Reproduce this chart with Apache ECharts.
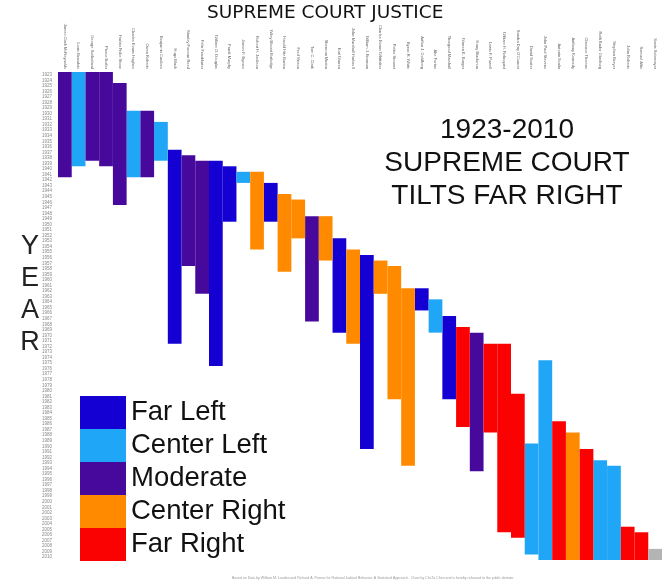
<!DOCTYPE html>
<html>
<head>
<meta charset="utf-8">
<script src="https://cdn.jsdelivr.net/npm/echarts@6/dist/echarts.min.js"></script>
<style>html,body{margin:0;padding:0;background:#fff;}#c{width:666px;height:587px;}</style>
</head>
<body>
<div id="c"></div>
<script>
const justices = ["James Clark McReynolds","Louis Brandeis","George Sutherland","Pierce Butler","Harlan Fiske Stone","Charles Evans Hughes","Owen Roberts","Benjamin Cardozo","Hugo Black","Stanley Forman Reed","Felix Frankfurter","William O. Douglas","Frank Murphy","James F. Byrnes","Robert H. Jackson","Wiley Blount Rutledge","Harold Hitz Burton","Fred Vinson","Tom C. Clark","Sherman Minton","Earl Warren","John Marshall Harlan II","William J. Brennan","Charles Evans Whittaker","Potter Stewart","Byron R. White","Arthur J. Goldberg","Abe Fortas","Thurgood Marshall","Warren E. Burger","Harry Blackmun","Lewis F. Powell","William H. Rehnquist","Sandra Day O'Connor","David Souter","John Paul Stevens","Antonin Scalia","Anthony Kennedy","Clarence Thomas","Ruth Bader Ginsburg","Stephen Breyer","John Roberts","Samuel Alito","Sonia Sotomayor"];
const startYears = [1923,1923,1923,1923,1925,1930,1930,1932,1937,1938,1939,1939,1940,1941,1941,1943,1945,1946,1949,1949,1953,1955,1956,1957,1958,1962,1962,1964,1967,1969,1970,1972,1972,1981,1990,1975,1986,1988,1991,1993,1994,2005,2006,2009];
const endYears = [1941,1939,1938,1939,1946,1941,1941,1938,1971,1957,1962,1975,1949,1942,1954,1949,1958,1952,1967,1956,1969,1971,1990,1962,1981,1993,1965,1969,1981,1986,1994,1987,2005,2006,2009,2010,2010,2010,2010,2010,2010,2010,2010,2010];
const leanings = ["Moderate","Center Left","Moderate","Moderate","Moderate","Center Left","Moderate","Center Left","Far Left","Moderate","Moderate","Far Left","Far Left","Center Left","Center Right","Far Left","Center Right","Center Right","Moderate","Center Right","Far Left","Center Right","Far Left","Center Right","Center Right","Center Right","Far Left","Center Left","Far Left","Far Right","Moderate","Far Right","Far Right","Far Right","Center Left","Center Left","Far Right","Center Right","Far Right","Center Left","Center Left","Far Right","Far Right","Unclassified"];
const categories = ["Far Left","Center Left","Moderate","Center Right","Far Right"];
const firstYear = 1923, lastYear = 2010;
const years = [];
for (let y = firstYear; y <= lastYear; y++) years.push(String(y));

const colors = {"Far Left":"#1400d2","Center Left":"#20a6f6","Moderate":"#47089c","Center Right":"#ff8a00","Far Right":"#fb0202","Unclassified":"#b4b4b4"};
const FONT = 'Liberation Sans, Arial, sans-serif';

function renderItem(params, api) {
  const x = api.value(0), s = api.value(1), e = api.value(2);
  const c = api.coord([x, s]);
  const w = api.size([1, 0])[0];
  const h = api.size([0, 1])[1];
  return {
    type: 'rect',
    shape: {x: c[0] - w / 2, y: c[1] - h / 2, width: w, height: (e - s + 1) * h},
    style: {fill: api.visual('color')}
  };
}

const allCats = categories.concat(["Unclassified"]);
const series = allCats.map(cat => ({
  name: cat,
  type: 'custom',
  renderItem: renderItem,
  itemStyle: {color: colors[cat]},
  encode: {x: 0, y: [1, 2]},
  data: justices.map((n, i) => leanings[i] === cat ? [i, startYears[i] - firstYear, endYears[i] - firstYear] : null).filter(d => d)
}));

const chart = echarts.init(document.getElementById('c'), null, {renderer: 'canvas'});
chart.setOption({
  backgroundColor: '#fff',
  animation: false,
  textStyle: {fontFamily: FONT},
  grid: {left: 58, right: 4, top: 72, bottom: 27, containLabel: false},
  xAxis: {
    type: 'category', position: 'top', data: justices,
    axisLine: {show: false}, axisTick: {show: false}, splitLine: {show: false},
    axisLabel: {rotate: 90, interval: 0, fontSize: 4, color: '#666', margin: 3}
  },
  yAxis: {
    type: 'category', inverse: true, data: years,
    axisLine: {show: false}, axisTick: {show: false}, splitLine: {show: false},
    axisLabel: {interval: 0, fontSize: 4.5, color: '#888', margin: 6}
  },
  legend: {
    data: categories, orient: 'vertical', left: 80, top: 396,
    itemWidth: 46, itemHeight: 33, itemGap: 0, icon: 'rect', padding: 0,
    selectedMode: false,
    textStyle: {fontSize: 27.5, color: '#111', fontFamily: FONT}
  },
  graphic: [
    {type: 'text', left: 207, top: 4, style: {text: 'SUPREME COURT JUSTICE', fontSize: 18.5, fill: '#111', fontFamily: 'DejaVu Sans, sans-serif'}},
    {type: 'text', x: 507, y: 114, style: {text: '1923-2010\nSUPREME COURT\nTILTS FAR RIGHT', fontSize: 28, lineHeight: 33, align: 'center', fill: '#111', fontFamily: FONT}},
    {type: 'text', x: 30, y: 231, style: {text: 'Y\nE\nA\nR', fontSize: 27, lineHeight: 32, align: 'center', fill: '#222', fontFamily: FONT}},
    {type: 'text', x: 232, y: 576, style: {text: 'Based on Data by William M. Landes and Richard A. Posner for Rational Judicial Behavior: A Statistical Approach.  Chart by Chi-Ta Chen and is hereby released to the public domain.', fontSize: 3.5, fill: '#999', fontFamily: FONT}}
  ],
  series: series
});
</script>
</body>
</html>
